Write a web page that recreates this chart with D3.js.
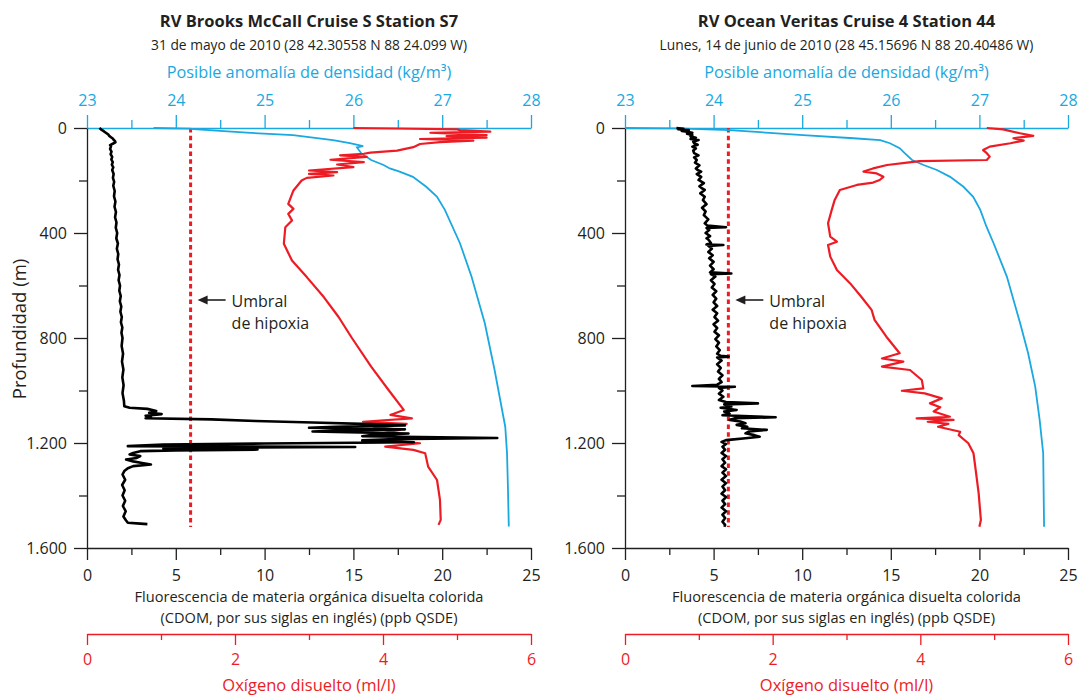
<!DOCTYPE html>
<html>
<head>
<meta charset="utf-8">
<script src="https://cdnjs.cloudflare.com/ajax/libs/d3/7.8.5/d3.min.js"></script>
<style>
  body { margin: 0; background: #fff; }
  text { font-family: "Open Sans", sans-serif; }
</style>
</head>
<body>
<svg id="chart" width="1079" height="695"></svg>
<script>
// panel titles
var titles = ["RV Brooks McCall Cruise S Station S7", "RV Ocean Veritas Cruise 4 Station 44"];
var subtitles = ["31 de mayo de 2010 (28 42.30558 N 88 24.099 W)",
                 "Lunes, 14 de junio de 2010 (28 45.15696 N 88 20.40486 W)"];

// tick values
var depthTicks = [0, 400, 800, 1200, 1600];
var depthMinor = [200, 600, 1000, 1400];
var densTicks = [23, 24, 25, 26, 27, 28];
var densMinor = [23.5, 24.5, 25.5, 26.5, 27.5];
var cdomTicks = [0, 5, 10, 15, 20, 25];
var cdomMinor = [2.5, 7.5, 12.5, 17.5, 22.5];
var oxyTicks = [0, 2, 4, 6];
var oxyMinor = [1, 3, 5];
var hypoxia = 1.4; // ml/l

// Station S7 -- [depth m, value]
var s7Cdom = [[0,0.7],[3,0.75],[6,0.8],[10,0.9],[15,1.0],[20,1.1],[25,1.2],[30,1.25],[35,1.35],[40,1.45],[45,1.5],[50,1.58],[55,1.6],[60,1.45],[65,1.3],[70,1.35],[80,1.3],[90,1.38],[100,1.33],[110,1.42],[120,1.37],[130,1.45],[140,1.4],[150,1.48],[160,1.42],[175,1.5],[190,1.46],[205,1.53],[220,1.48],[240,1.56],[260,1.52],[280,1.6],[300,1.55],[320,1.63],[340,1.58],[360,1.66],[380,1.62],[400,1.7],[420,1.65],[440,1.74],[460,1.68],[480,1.76],[500,1.72],[520,1.8],[540,1.75],[560,1.83],[580,1.78],[600,1.86],[620,1.82],[640,1.9],[660,1.85],[680,1.93],[700,1.88],[720,1.96],[740,1.91],[760,1.99],[780,1.94],[800,2.0],[830,1.95],[860,2.03],[890,1.97],[920,2.05],[950,1.99],[980,2.06],[1010,2.0],[1040,2.08],[1060,2.1],
  [1066,2.4],[1070,3.4],[1078,3.9],[1085,3.5],[1090,4.2],[1096,3.3],[1102,3.6],[1106,3.3],[1110,7.0],[1116,9.5],[1122,12.7],[1128,16.0],[1133,17.9],[1138,14.0],[1142,12.5],[1148,17.9],[1152,14.5],[1156,12.7],[1164,18.1],[1170,16.0],[1174,15.5],[1181,23.1],[1186,17.0],[1190,15.5],[1197,18.4],[1202,10.0],[1206,4.3],[1212,2.3],[1215,15.1],[1218,8.0],[1221,4.3],[1225,9.6],[1228,5.0],[1231,3.0],[1238,2.6],[1244,2.4],[1250,3.0],[1257,2.8],[1263,2.2],[1270,2.6],[1276,3.1],[1282,3.6],[1288,2.6],[1296,2.3],[1307,2.1],[1320,2.0],[1340,2.15],[1360,1.98],[1380,2.12],[1400,2.0],[1420,2.15],[1440,2.02],[1460,2.18],[1480,2.05],[1495,2.2],[1504,2.3],[1507,3.0],[1509,3.4]];

var s7Oxy = [[0,3.6],[2,4.2],[5,5.0],[8,5.04],[14,5.45],[18,4.64],[27,5.4],[31,4.86],[37,5.4],[42,4.5],[48,5.22],[54,4.77],[61,4.5],[73,4.41],[86,4.19],[94,3.83],[98,3.74],[104,3.42],[110,3.78],[121,3.29],[130,3.74],[139,3.38],[149,3.6],[162,3.0],[168,3.38],[175,3.0],[181,3.33],[190,2.97],[200,2.9],[238,2.79],[289,2.72],[308,2.79],[327,2.72],[352,2.77],[378,2.68],[441,2.66],[505,2.77],[568,2.97],[644,3.2],[720,3.4],[800,3.58],[909,3.84],[1000,4.08],[1074,4.28],[1093,4.1],[1106,4.39],[1119,3.73],[1127,4.32],[1138,3.87],[1150,4.23],[1163,3.98],[1176,4.19],[1191,4.1],[1201,4.5],[1214,4.03],[1226,4.41],[1239,4.57],[1290,4.61],[1341,4.73],[1417,4.77],[1493,4.78],[1512,4.75]];

var s7Dens = [[0,23.75],[2.5,24.16],[4,24.2],[18,24.8],[27,25.32],[46,25.77],[58,25.96],[69,26.11],[74,26.04],[97,26.09],[122,26.2],[141,26.34],[154,26.41],[166,26.52],[186,26.67],[224,26.82],[261,26.94],[312,27.03],[439,27.2],[566,27.33],[744,27.48],[922,27.59],[1138,27.71],[1239,27.73],[1366,27.74],[1518,27.75]];

// Station 44 -- [depth m, value]
var s44Cdom = [[0,2.9],[3,3.3],[5,3.0],[8,3.6],[11,3.2],[14,3.5],[18,3.8],[22,3.5],[27,3.8],[32,3.7],[37,4.0],[42,3.7],[46,4.15],[52,3.85],[58,3.9],[64,4.1],[71,3.8],[78,4.0],[86,3.85],[96,3.9],[104,4.15],[112,3.9],[122,4.05],[132,3.95],[142,4.2],[154,4.0],[160,4.1],[166,4.3],[176,4.05],[186,4.3],[198,4.15],[210,4.45],[222,4.2],[230,4.35],[236,4.5],[249,4.25],[262,4.5],[275,4.4],[290,4.6],[304,4.35],[318,4.55],[332,4.45],[348,4.7],[363,4.5],[372,4.65],[378,5.7],[381,4.6],[389,4.75],[400,4.55],[412,4.8],[420,4.6],[425,4.7],[438,4.85],[444,4.6],[446,5.55],[449,4.7],[460,4.9],[472,4.7],[485,4.95],[496,4.75],[510,5.0],[524,4.8],[538,5.0],[550,4.8],[554,6.0],[557,4.85],[566,5.1],[580,4.85],[594,5.05],[608,4.9],[622,5.15],[636,4.95],[650,5.15],[664,5.0],[678,5.2],[692,4.95],[706,5.2],[720,5.05],[734,5.25],[748,5.0],[762,5.2],[776,5.05],[790,5.3],[804,5.1],[818,5.3],[832,5.15],[846,5.35],[860,5.2],[868,5.4],[871,5.85],[874,5.2],[886,5.45],[900,5.2],[914,5.4],[928,5.25],[942,5.5],[956,5.3],[968,5.45],[978,5.2],[983,3.8],[986,6.2],[990,5.3],[1000,5.5],[1012,5.3],[1024,5.55],[1036,5.3],[1044,5.7],[1049,7.5],[1053,5.6],[1061,6.0],[1066,5.4],[1074,6.3],[1080,5.6],[1088,5.9],[1094,5.5],[1102,8.5],[1106,6.2],[1112,5.9],[1118,6.5],[1125,6.8],[1131,6.3],[1138,6.9],[1144,6.6],[1150,8.0],[1156,7.0],[1163,6.8],[1170,7.3],[1176,7.6],[1182,6.8],[1187,6.0],[1189,5.7],[1196,5.45],[1204,5.7],[1214,5.5],[1226,5.65],[1238,5.45],[1250,5.7],[1262,5.5],[1275,5.65],[1288,5.45],[1300,5.7],[1313,5.5],[1326,5.7],[1340,5.45],[1353,5.7],[1366,5.5],[1380,5.65],[1393,5.45],[1406,5.7],[1420,5.5],[1433,5.65],[1446,5.45],[1460,5.7],[1473,5.5],[1486,5.65],[1500,5.5],[1512,5.65],[1519,5.6]];

var s44Oxy = [[0,4.9],[5,5.12],[20,5.35],[30,5.53],[39,5.26],[48,5.4],[58,5.22],[71,4.94],[84,4.85],[96,4.9],[109,4.94],[122,4.9],[126,3.99],[132,3.82],[141,3.55],[154,3.36],[166,3.23],[173,3.41],[186,3.5],[198,3.45],[208,3.36],[217,3.14],[236,2.91],[274,2.84],[312,2.8],[363,2.75],[414,2.78],[433,2.87],[446,2.75],[490,2.78],[541,2.87],[592,3.05],[643,3.2],[693,3.34],[731,3.38],[795,3.54],[858,3.72],[878,3.48],[890,3.77],[909,3.48],[922,3.86],[960,4.02],[992,4.04],[1001,3.75],[1011,4.06],[1030,4.29],[1049,4.13],[1064,4.27],[1080,4.18],[1100,4.4],[1106,3.95],[1112,4.45],[1119,4.1],[1127,4.38],[1138,4.24],[1157,4.54],[1170,4.52],[1201,4.65],[1239,4.72],[1303,4.75],[1392,4.79],[1493,4.82],[1519,4.8]];

var s44Dens = [[0,23.0],[1.3,23.58],[8,24.18],[27,25.01],[39,25.58],[46,25.88],[58,25.99],[77,26.1],[97,26.16],[122,26.24],[141,26.37],[160,26.52],[186,26.67],[224,26.82],[262,26.93],[312,27.01],[376,27.08],[439,27.16],[566,27.31],[744,27.46],[858,27.55],[985,27.63],[1112,27.68],[1239,27.72],[1519,27.73]];

var blue = "#1aa8e0", red = "#ed1c24", ink = "#231f20";
var es = d3.formatLocale({decimal: ",", thousands: ".", grouping: [3], currency: ["", " €"]});
var fmtDepth = es.format(",d");
var fmtInt = d3.format("d");

var svg = d3.select("#chart");

function styleAxis(g, color, size) {
  g.attr("font-family", null).attr("font-size", size);
  g.select(".domain").attr("stroke", color).attr("stroke-width", 1.3);
  g.selectAll(".tick line").attr("stroke", color).attr("stroke-width", 1.3);
  g.selectAll(".tick text").attr("fill", color);
}

function drawPanel(p) {
  var g = svg.append("g");
  var depth = d3.scaleLinear().domain([0, 1600]).range([128, 548]);
  var cdom = d3.scaleLinear().domain([0, 25]).range([p.x0, p.x1]);
  var oxy = d3.scaleLinear().domain([0, 6]).range([p.x0, p.x1]);
  var dens = d3.scaleLinear().domain([23, 28]).range([p.x0, p.x1]);
  var cx = (p.x0 + p.x1) / 2;

  // titles
  g.append("text").attr("x", cx).attr("y", 20).attr("text-anchor", "middle")
    .attr("dominant-baseline", "central").attr("font-size", 16.5).attr("font-weight", "bold")
    .attr("fill", ink).text(p.title);
  g.append("text").attr("x", cx).attr("y", 44).attr("text-anchor", "middle")
    .attr("dominant-baseline", "central").attr("font-size", 13.8).attr("fill", ink).text(p.subtitle);
  g.append("text").attr("x", cx).attr("y", 72).attr("text-anchor", "middle")
    .attr("dominant-baseline", "central").attr("font-size", 16.3).attr("fill", blue)
    .text("Posible anomalía de densidad (kg/m³)");

  // top density axis
  var top = g.append("g").attr("transform", "translate(0,128)")
    .call(d3.axisTop(dens).tickValues(densTicks).tickSize(13).tickSizeOuter(0).tickPadding(9).tickFormat(fmtInt));
  styleAxis(top, blue, 16);
  var topMinor = g.append("g").attr("transform", "translate(0,128)")
    .call(d3.axisTop(dens).tickValues(densMinor).tickSize(8).tickFormat(""));
  styleAxis(topMinor, blue, 16);
  topMinor.select(".domain").remove();

  // left depth axis
  var left = g.append("g").attr("transform", "translate(" + p.x0 + ",0)")
    .call(d3.axisLeft(depth).tickValues(depthTicks).tickSize(13).tickSizeOuter(0).tickPadding(7).tickFormat(fmtDepth));
  styleAxis(left, ink, 16);
  var leftMinor = g.append("g").attr("transform", "translate(" + p.x0 + ",0)")
    .call(d3.axisLeft(depth).tickValues(depthMinor).tickSize(8).tickFormat(""));
  styleAxis(leftMinor, ink, 16);
  leftMinor.select(".domain").remove();

  // bottom CDOM axis
  var bottom = g.append("g").attr("transform", "translate(0,548)")
    .call(d3.axisBottom(cdom).tickValues(cdomTicks).tickSize(12).tickSizeOuter(0).tickPadding(10));
  styleAxis(bottom, ink, 16);
  var bottomMinor = g.append("g").attr("transform", "translate(0,548)")
    .call(d3.axisBottom(cdom).tickValues(cdomMinor).tickSize(7).tickFormat(""));
  styleAxis(bottomMinor, ink, 16);
  bottomMinor.select(".domain").remove();

  g.append("text").attr("x", cx).attr("y", 596).attr("text-anchor", "middle")
    .attr("dominant-baseline", "central").attr("font-size", 14.6).attr("fill", ink)
    .text("Fluorescencia de materia orgánica disuelta colorida");
  g.append("text").attr("x", cx).attr("y", 617).attr("text-anchor", "middle")
    .attr("dominant-baseline", "central").attr("font-size", 14.6).attr("fill", ink)
    .text("(CDOM, por sus siglas en inglés) (ppb QSDE)");

  // oxygen axis
  var ox = g.append("g").attr("transform", "translate(0,634)")
    .call(d3.axisBottom(oxy).tickValues(oxyTicks).tickSize(11).tickSizeOuter(0).tickPadding(9).tickFormat(fmtInt));
  styleAxis(ox, red, 16);
  var oxMinor = g.append("g").attr("transform", "translate(0,634)")
    .call(d3.axisBottom(oxy).tickValues(oxyMinor).tickSize(6).tickFormat(""));
  styleAxis(oxMinor, red, 16);
  oxMinor.select(".domain").remove();
  g.append("text").attr("x", cx).attr("y", 684).attr("text-anchor", "middle")
    .attr("dominant-baseline", "central").attr("font-size", 16.5).attr("fill", red)
    .text("Oxígeno disuelto (ml/l)");

  if (p.yTitle) {
    g.append("text").attr("transform", "translate(18,329) rotate(-90)")
      .attr("text-anchor", "middle").attr("dominant-baseline", "central")
      .attr("font-size", 18.5).attr("fill", ink).text("Profundidad (m)");
  }

  // hypoxia threshold
  var hx = oxy(hypoxia);
  g.append("line").attr("x1", hx).attr("x2", hx).attr("y1", depth(0)).attr("y2", depth(1520))
    .attr("stroke", red).attr("stroke-width", 3).attr("stroke-dasharray", "4.5,3.3");
  var ay = 300;
  g.append("line").attr("x1", hx + 14).attr("x2", hx + 35).attr("y1", ay).attr("y2", ay)
    .attr("stroke", ink).attr("stroke-width", 1.6);
  g.append("path").attr("d", "M" + (hx + 7) + "," + ay + "L" + (hx + 17) + "," + (ay - 4.5) + "L" + (hx + 17) + "," + (ay + 4.5) + "Z")
    .attr("fill", ink);
  g.append("text").attr("x", hx + 41).attr("y", ay + 1).attr("dominant-baseline", "central")
    .attr("font-size", 16).attr("fill", ink).text("Umbral");
  g.append("text").attr("x", hx + 41).attr("y", ay + 23).attr("dominant-baseline", "central")
    .attr("font-size", 16).attr("fill", ink).text("de hipoxia");

  // profiles
  var line = function(sx) {
    return d3.line().x(function(d) { return sx(d[1]); }).y(function(d) { return depth(d[0]); });
  };
  g.append("path").datum(p.dens).attr("d", line(dens))
    .attr("fill", "none").attr("stroke", blue).attr("stroke-width", 1.8);
  g.append("path").datum(p.oxy).attr("d", line(oxy))
    .attr("fill", "none").attr("stroke", red).attr("stroke-width", 2.2).attr("stroke-linejoin", "round");
  g.append("path").datum(p.cdom).attr("d", line(cdom))
    .attr("fill", "none").attr("stroke", "#000").attr("stroke-width", 2.6).attr("stroke-linejoin", "round");
}

drawPanel({x0: 87, x1: 531, title: titles[0], subtitle: subtitles[0], yTitle: true,
           cdom: s7Cdom, oxy: s7Oxy, dens: s7Dens});
drawPanel({x0: 625, x1: 1068, title: titles[1], subtitle: subtitles[1], yTitle: false,
           cdom: s44Cdom, oxy: s44Oxy, dens: s44Dens});
</script>
</body>
</html>
